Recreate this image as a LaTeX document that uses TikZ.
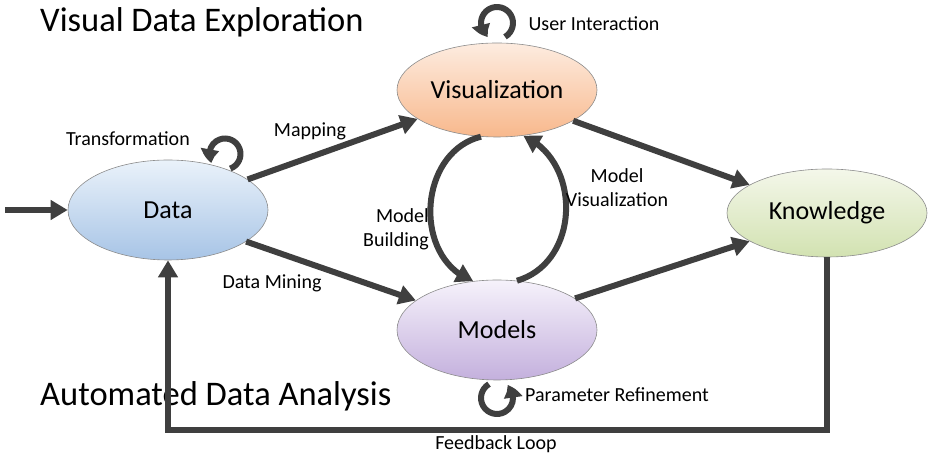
\documentclass[tikz,border=0pt]{standalone}
\usepackage{fontspec}
\setmainfont{Carlito}
\usetikzlibrary{shapes.geometric,arrows.meta,bending}
\definecolor{arr}{HTML}{3F3F3F}
\tikzset{
  stage/.style={ellipse, draw=black!45, line width=0.6pt, minimum width=200pt, minimum height=94pt, inner sep=0pt, font=\fontsize{26}{30}\selectfont},
  flow/.style={draw=arr, line width=6pt, -{Triangle[length=17pt,width=19pt]}, line join=miter},
  loopy/.style={draw=arr, line width=6pt, -{Triangle[length=14pt,width=18pt,bend]}},
  lbl/.style={font=\fontsize{20}{24}\selectfont, inner sep=0pt},
  ttl/.style={font=\fontsize{34.5}{40}\selectfont, inner sep=0pt}
}
\begin{document}
\begin{tikzpicture}[x=1pt,y=1pt]
\useasboundingbox (0,0) rectangle (929,457);
% nodes
\node[stage, top color={rgb,255:red,253;green,236;blue,224}, bottom color={rgb,255:red,248;green,184;blue,140}] (vis) at (497,367) {Visualization};
\node[stage, top color={rgb,255:red,234;green,242;blue,250}, bottom color={rgb,255:red,167;green,196;blue,230}, minimum height=100pt] (data) at (168,247) {Data};
\node[stage, top color={rgb,255:red,246;green,242;blue,251}, bottom color={rgb,255:red,196;green,176;blue,221}, minimum height=100pt] (models) at (497,127) {Models};
\node[stage, top color={rgb,255:red,244;green,247;blue,234}, bottom color={rgb,255:red,210;green,226;blue,177}, minimum height=88pt] (know) at (827,244) {Knowledge};
% titles
\node[ttl, anchor=west] (t1) at (40,435) {Visual Data Exploration};
\node[ttl, anchor=west] (t2) at (40,61) {Automated Data Analysis};
% main connectors
\coordinate (in) at (5,247);
\draw[flow] (in) -- (data.west);
\draw[flow] (data.21) -- (vis.200);
\draw[flow] (data.-22) -- (models.160);
\draw[flow] (vis.-22) -- (know.160);
\draw[flow] (models.22) -- (know.200);
\draw[flow] (vis.251) to[out=194,in=160,looseness=1.15] (models.116);
\draw[flow] (models.68) to[out=16,in=-24,looseness=1.15] (vis.-60);
\coordinate (fb) at (168,27);
\draw[flow] (know.south) |- (fb) -- (data.south);
% self loops
\coordinate (tl) at (225,303);
\draw[loopy] ([shift={(-70:15.5)}]tl) arc[start angle=-70,end angle=215,radius=15.5];
\coordinate (ul) at (497,434);
\draw[loopy] ([shift={(-60:16)}]ul) arc[start angle=-60,end angle=238,radius=16];
\coordinate (pl) at (497,59);
\draw[loopy] ([shift={(120:16)}]pl) arc[start angle=120,end angle=412,radius=16];
% labels
\node[lbl] (l1) at (128,318) {Transformation};
\node[lbl] (l2) at (310,326) {Mapping};
\node[lbl] (l3) at (594,433) {User Interaction};
\node[lbl, align=right, anchor=east] (l4) at (429,228) {Model\\Building};
\node[lbl, align=center] (l5) at (617,269) {Model\\Visualization};
\node[lbl] (l6) at (272,174) {Data Mining};
\node[lbl] (l7) at (617,62) {Parameter Refinement};
\node[lbl] (l8) at (496,13) {Feedback Loop};
\end{tikzpicture}
\end{document}
